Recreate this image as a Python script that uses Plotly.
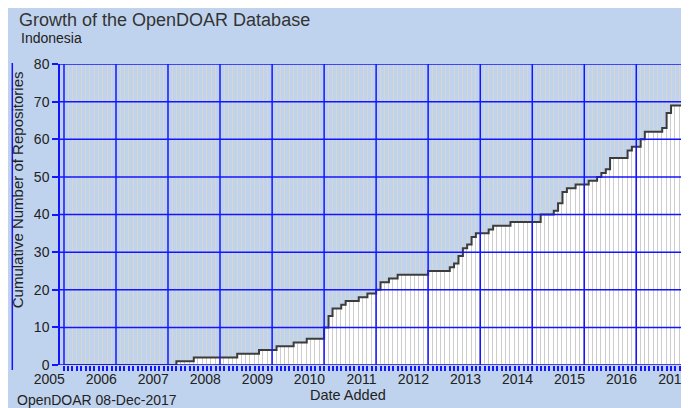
import bisect
import calendar
import plotly.graph_objects as go

# ---- data ----
step_months = ["2005-01", "2007-03", "2007-07", "2008-05", "2008-10", "2009-02", "2009-06", "2009-09",
               "2010-01", "2010-02", "2010-03", "2010-05", "2010-06", "2010-09", "2010-11",
               "2011-01", "2011-02", "2011-04", "2011-06",
               "2012-01", "2012-06", "2012-07", "2012-08", "2012-09", "2012-10", "2012-11", "2012-12",
               "2013-03", "2013-04", "2013-08",
               "2014-03", "2014-06", "2014-07", "2014-08", "2014-09", "2014-11",
               "2015-02", "2015-04", "2015-05", "2015-06", "2015-07", "2015-11", "2015-12",
               "2016-02", "2016-03", "2016-07", "2016-08", "2016-09"]
step_counts = [0, 1, 2, 3, 4, 5, 6, 7,
               10, 13, 15, 16, 17, 18, 19,
               20, 22, 23, 24,
               25, 26, 27, 29, 31, 32, 34, 35,
               36, 37, 38,
               40, 41, 43, 46, 47, 48,
               49, 50, 51, 52, 55, 57, 58,
               60, 62, 63, 67, 69]
years = list(range(2005, 2018))
y_ticks = [0, 10, 20, 30, 40, 50, 60, 70, 80]

# ---- style ----
BG = "#C0D3EE"
BLUE = "#1414FF"
FONT = "Liberation Sans"
TXT = "#222222"
OFF = 8                      # page body margin
W, H = 689 - OFF, 408 - OFF  # figure fills the rest of the page
L, R, T, B = 52, 681, 56, 357  # plot area in figure pixels


def fx(px):  # page pixel -> paper x
    return (px - OFF - L) / (R - L)


def fy(py):  # page pixel -> paper y
    return (B - (py - OFF)) / (B - T)


# monthly cumulative bars (value held from each step month)
bar_x, bar_y, bar_w = [], [], []
for yr in range(2005, 2017):
    for mo in range(1, 13):
        key = f"{yr}-{mo:02d}"
        i = bisect.bisect_right(step_months, key) - 1
        bar_x.append(f"{key}-01")
        bar_y.append(step_counts[i])
        bar_w.append(calendar.monthrange(yr, mo)[1] * 86400000)

fig = go.Figure()
fig.add_trace(go.Bar(
    x=bar_x, y=bar_y, width=bar_w, offset=0,
    marker=dict(color="white", line=dict(color="#CDCDCD", width=1)),
    hoverinfo="skip", showlegend=False))
fig.add_trace(go.Scatter(
    x=[m + "-01" for m in step_months] + ["2017-01-01"],
    y=step_counts + [step_counts[-1]],
    mode="lines", line=dict(color="#3C3C3C", width=2, shape="hv"),
    hoverinfo="skip", showlegend=False))

shapes = []
for yr in years[:-1]:
    shapes.append(dict(type="line", xref="x", yref="paper", x0=f"{yr}-01-01", x1=f"{yr}-01-01",
                       y0=0, y1=1, line=dict(color=BLUE, width=1.5), layer="above"))
for v in y_ticks:
    shapes.append(dict(type="line", xref="paper", yref="y", x0=0, x1=1, y0=v, y1=v,
                       line=dict(color=BLUE, width=1.5), layer="above"))
# thin blue frame line at the far left
shapes.append(dict(type="line", xref="paper", yref="paper", x0=fx(12), x1=fx(12),
                   y0=fy(370), y1=fy(63), line=dict(color=BLUE, width=1.5), layer="above"))

annotations = [
    dict(text="Indonesia", xref="paper", yref="paper", x=fx(19), y=fy(38),
         xanchor="left", yanchor="middle", showarrow=False,
         font=dict(family=FONT, size=14, color=TXT)),
    dict(text="OpenDOAR 08-Dec-2017", xref="paper", yref="paper", x=fx(15), y=fy(400),
         xanchor="left", yanchor="middle", showarrow=False,
         font=dict(family=FONT, size=14, color=TXT)),
    dict(text="Date Added", xref="paper", yref="paper", x=fx(350), y=fy(395),
         xanchor="center", yanchor="middle", showarrow=False,
         font=dict(family=FONT, size=14.5, color=TXT)),
    dict(text="Cumulative Number of Repositories", xref="paper", yref="paper", x=fx(17), y=fy(190),
         xanchor="center", yanchor="middle", showarrow=False, textangle=-90,
         font=dict(family=FONT, size=15, color=TXT)),
]

fig.update_layout(
    width=W, height=H,
    margin=dict(l=L, r=W - R, t=T, b=H - B, pad=0),
    paper_bgcolor=BG, plot_bgcolor=BG,
    title=dict(text="Growth of the OpenDOAR Database", x=(19 - OFF) / W,
               xanchor="left", y=1 - (20 - OFF) / H, yanchor="middle",
               font=dict(family=FONT, size=18, color="#333333")),
    bargap=0,
    shapes=shapes,
    annotations=annotations,
    xaxis=dict(
        type="date", range=["2004-12-04", "2016-12-08"],
        tickmode="array",
        tickvals=[f"{y - 1}-12-06" for y in years],
        ticktext=[str(y) for y in years],
        ticks="", ticklen=0, ticklabelshift=-11, ticklabelstandoff=4,
        ticklabeloverflow="allow",
        showgrid=False, zeroline=False, showline=False,
        tickfont=dict(family=FONT, size=14, color=TXT),
        minor=dict(tickmode="linear", tick0="2005-01-01", dtick="M1",
                   ticks="outside", ticklen=5, tickwidth=1.5, tickcolor=BLUE,
                   showgrid=True, gridcolor="#D7D7D0", gridwidth=1),
    ),
    yaxis=dict(
        range=[0, 80], tickmode="array", tickvals=y_ticks,
        ticks="outside", ticklen=6, tickwidth=1.5, tickcolor=BLUE,
        showline=True, linecolor=BLUE, linewidth=1.5,
        showgrid=False, zeroline=False,
        tickfont=dict(family=FONT, size=14, color=TXT),
    ),
)

fig.write_html("out.html")
